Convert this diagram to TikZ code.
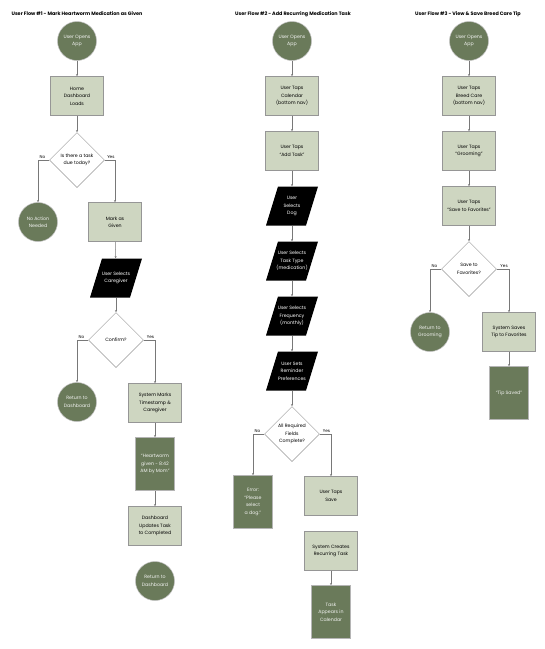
\documentclass[tikz,border=0pt]{standalone}
\usepackage{fontspec}
\setmainfont{Poppins}
\usetikzlibrary{shapes.geometric,arrows.meta}
\definecolor{ltgreen}{RGB}{206,214,193}
\definecolor{dkgreen}{RGB}{106,122,90}
\definecolor{edgegray}{RGB}{150,150,150}
\definecolor{linegray}{RGB}{120,120,120}
\newcommand\parabox[4]{%
  \fill[black] (#2-14,#3-19.5) -- (#2+26,#3-19.5) -- (#2+14,#3+19.5) -- (#2-26,#3+19.5) -- cycle;
  \node[paratext] (#1) at (#2,#3) {#4};}
\begin{document}
\begin{tikzpicture}[x=1pt,y=-1pt,
  every node/.style={font=\fontsize{4.7}{7.4}\selectfont, align=center, inner sep=0pt},
  circ/.style={circle, minimum size=39pt, fill=dkgreen, draw=edgegray!60, line width=0.5pt, text=white!92!dkgreen},
  lbox/.style={rectangle, minimum width=53pt, minimum height=39pt, fill=ltgreen, draw=edgegray, line width=0.5pt, text=black},
  dbox/.style={rectangle, minimum width=39pt, minimum height=53pt, fill=dkgreen, draw=edgegray!70, line width=0.5pt, text=white!92!dkgreen},
  paratext/.style={rectangle, minimum width=40pt, minimum height=39pt, text=white},
  dec/.style={diamond, minimum width=55pt, minimum height=55pt, fill=white, draw=edgegray, line width=0.5pt, text=black},
  title/.style={font=\fontsize{4.9}{5.8}\selectfont\bfseries},
  arr/.style={draw=linegray, line width=0.5pt, -{Stealth[length=2.2pt,width=2pt]}},
  lbl/.style={font=\fontsize{4.2}{5}\selectfont, above=0.8pt}]
\useasboundingbox (0,0) rectangle (545,649);
\fill[white] (0,0) rectangle (545,649);

% ---------- Flow 1 ----------
\node[title] (t1) at (77,14) {User Flow \#1 - Mark Heartworm Medication as Given};
\node[circ] (s1) at (77,41) {User Opens\\App};
\node[lbox] (home) at (77,96) {Home\\Dashboard\\Loads};
\node[dec] (q1) at (77,160) {Is there a task\\due today?};
\node[circ] (noact) at (38,222) {No Action\\Needed};
\node[lbox] (mark) at (115,222) {Mark as\\Given};
\parabox{care}{116}{278}{User Selects\\Caregiver}
\node[dec] (q2) at (116,340) {Confirm?};
\node[circ] (ret1) at (77,402) {Return to\\Dashboard};
\node[lbox] (sysm) at (155,403) {System Marks\\Timestamp \&\\Caregiver};
\node[dbox] (hw) at (155,464) {“Heartworm\\given - 8:42\\AM by Mom”};
\node[lbox] (dash) at (155,526) {Dashboard\\Updates Task\\to Completed};
\node[circ] (ret2) at (155,581) {Return to\\Dashboard};

\draw[arr] (s1) -- (home);
\draw[arr] (home) -- (q1);
\draw[arr] (q1.west) -| node[lbl,pos=0.3] {No} (noact.north);
\draw[arr] (q1.east) -| node[lbl,pos=0.3] {Yes} (mark.north);
\draw[arr] (mark) -- (care);
\draw[arr] (care) -- (q2);
\draw[arr] (q2.west) -| node[lbl,pos=0.3] {No} (ret1.north);
\draw[arr] (q2.east) -| node[lbl,pos=0.3] {Yes} (sysm.north);
\draw[arr] (sysm) -- (hw);
\draw[arr] (hw) -- (dash);

% ---------- Flow 2 ----------
\node[title] (t2) at (293,14) {User Flow \#2 - Add Recurring Medication Task};
\node[circ] (s2) at (292,41) {User Opens\\App};
\node[lbox] (cal) at (292,96) {User Taps\\Calendar\\(bottom nav)};
\node[lbox] (add) at (292,151) {User Taps\\“Add Task”};
\parabox{dog}{292}{206}{User\\Selects\\Dog}
\parabox{type}{292}{261}{User Selects\\Task Type\\(medication)}
\parabox{freq}{292}{316}{User Selects\\Frequency\\(monthly)}
\parabox{rem}{292}{371}{User Sets\\Reminder\\Preferences}
\node[dec] (q3) at (292,434) {All Required\\Fields\\Complete?};
\node[dbox] (err) at (253,502) {Error:\\“Please\\select\\a dog.”};
\node[lbox] (save) at (331,496) {User Taps\\Save};
\node[lbox] (crt) at (331,551) {System Creates\\Recurring Task};
\node[dbox] (app) at (331,612) {Task\\Appears in\\Calendar};

\draw[arr] (s2) -- (cal);
\draw[arr] (cal) -- (add);
\draw[arr] (add) -- (dog);
\draw[arr] (dog) -- (type);
\draw[arr] (type) -- (freq);
\draw[arr] (freq) -- (rem);
\draw[arr] (rem) -- (q3);
\draw[arr] (q3.west) -| node[lbl,pos=0.3] {No} (err.north);
\draw[arr] (q3.east) -| node[lbl,pos=0.3] {Yes} (save.north);
\draw[arr] (crt) -- (app);

% ---------- Flow 3 ----------
\node[title] (t3) at (468,14) {User Flow \#3 - View \& Save Breed Care Tip};
\node[circ] (s3) at (469,41) {User Opens\\App};
\node[lbox] (breed) at (469,96) {User Taps\\Breed Care\\(bottom nav)};
\node[lbox] (groom) at (469,151) {User Taps\\“Grooming”};
\node[lbox] (fav) at (469,206) {User Taps\\“Save to Favorites”};
\node[dec] (q4) at (469,269) {Save to\\Favorites?};
\node[circ] (retg) at (430,332) {Return to\\Grooming};
\node[lbox] (saves) at (509,332) {System Saves\\Tip to Favorites};
\node[dbox] (tip) at (509,393) {“Tip Saved”};

\draw[arr] (s3) -- (breed);
\draw[arr] (breed) -- (groom);
\draw[arr] (groom) -- (fav);
\draw[arr] (fav) -- (q4);
\draw[arr] (q4.west) -| node[lbl,pos=0.3] {No} (retg.north);
\draw[arr] (q4.east) -| node[lbl,pos=0.3] {Yes} (saves.north);
\draw[arr] (saves) -- (tip);
\end{tikzpicture}
\end{document}
